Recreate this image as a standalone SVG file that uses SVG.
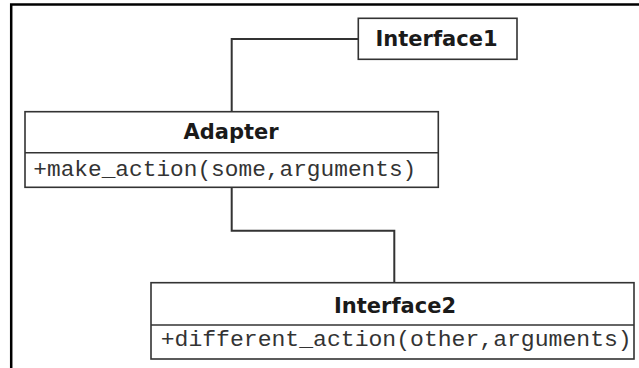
<svg xmlns="http://www.w3.org/2000/svg" width="639" height="368" viewBox="0 0 639 368">
  <style>
    .box { fill: #ffffff; stroke: #333333; stroke-width: 1.6; }
    .div { stroke: #333333; stroke-width: 1.6; fill: none; }
    .conn { stroke: #333333; stroke-width: 2; fill: none; }
    .title { font-family: "DejaVu Sans", "Liberation Sans", sans-serif; font-weight: bold; font-size: 21px; fill: #1a1a1a; text-anchor: middle; }
    .method { font-family: "Liberation Mono", "Courier New", monospace; font-size: 22.5px; fill: #333333; }
  </style>
  <rect width="639" height="368" fill="#ffffff"/>
  <path d="M11.2,368 V4.5 H639" fill="none" stroke="#000000" stroke-width="2.5"/>
  <g id="connectors">
    <path class="conn" d="M358.3,39 H231.7 V111.7"/>
    <path class="conn" d="M231.7,187.3 V230.7 H394.3 V282.7"/>
  </g>
  <g id="interface1">
    <rect class="box" x="358.3" y="18.3" width="158.7" height="41"/>
    <text class="title" x="436.5" y="46">Interface1</text>
  </g>
  <g id="adapter">
    <rect class="box" x="25" y="111.7" width="413.3" height="75.6"/>
    <line class="div" x1="25" y1="152.7" x2="438.3" y2="152.7"/>
    <text class="title" x="231" y="139.3">Adapter</text>
    <text class="method" x="33.3" y="175.7" textLength="383" lengthAdjust="spacingAndGlyphs">+make_action(some,arguments)</text>
  </g>
  <g id="interface2">
    <rect class="box" x="151" y="282.7" width="483" height="76.3"/>
    <line class="div" x1="151" y1="325" x2="634" y2="325"/>
    <text class="title" x="395" y="312.7">Interface2</text>
    <text class="method" x="160.7" y="345.7" textLength="471" lengthAdjust="spacingAndGlyphs">+different_action(other,arguments)</text>
  </g>
</svg>
